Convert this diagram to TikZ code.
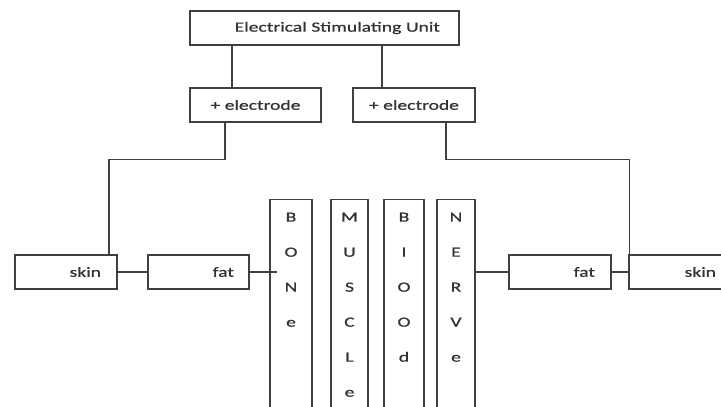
\documentclass[tikz,border=0pt]{standalone}
\usepackage{fontspec}
\setmainfont{Carlito}[FakeStretch=1.4, FakeBold=0.8]
\begin{document}
\begin{tikzpicture}[x=1pt,y=-1pt,
  every node/.style={text=black!80},
  box/.style={draw=black!75, line width=1.3pt, rectangle, inner ysep=0pt, minimum height=34pt, font=\fontsize{14}{16}\selectfont},
  rbox/.style={box, align=right, inner xsep=#1},
  vbox/.style={draw=black!75, line width=1.3pt, rectangle, inner sep=0pt, minimum height=260pt, anchor=north},
  vtext/.style={anchor=north, inner sep=0pt, align=center, font=\fontsize{14}{35}\selectfont, yshift=-13.5pt},
  conn/.style={draw=black!75, line width=1.3pt}]
\clip (0,0) rectangle (721,407);
\fill[white] (0,0) rectangle (721,407);
% top
\node[rbox=19pt, text width=231pt] (esu) at (324.5,28) {Electrical Stimulating Unit};
\node[box, minimum width=131pt] (lel) at (255.5,105) {+ electrode};
\node[box, minimum width=122pt] (rel) at (414,105) {+ electrode};
% side boxes
\node[rbox=16pt, text width=70pt] (lskin) at (66,272) {skin};
\node[rbox=15pt, text width=71pt] (lfat) at (198.5,272) {fat};
\node[rbox=16pt, text width=70pt] (rfat) at (560,272) {fat};
\node[rbox=15pt, text width=72pt] (rskin) at (680,272) {skin};
% tissue columns
\node[vbox, minimum width=42pt] (bone) at (291,199) {};
\node[vbox, minimum width=37pt] (muscle) at (349.5,199) {};
\node[vbox, minimum width=40pt] (blood) at (404,199) {};
\node[vbox, minimum width=38pt] (nerve) at (456,199) {};
\node[vtext] (bonet) at (bone.north) {B\\O\\N\\e};
\node[vtext] (musclet) at (muscle.north) {M\\U\\S\\C\\L\\e};
\node[vtext] (bloodt) at (blood.north) {B\\I\\O\\O\\d};
\node[vtext] (nervet) at (nerve.north) {N\\E\\R\\V\\e};
% connectors
\draw[conn] ([xshift=-23.5pt]lel.north) -- ([xshift=-23.5pt]lel.north |- esu.south);
\draw[conn] ([xshift=-32pt]rel.north) -- ([xshift=-32pt]rel.north |- esu.south);
\draw[conn] ([xshift=-30.5pt]lel.south) -- ++(0,37) -| ([xshift=43pt]lskin.north);
\draw[conn] ([xshift=32pt]rel.south) -- ++(0,37) -| ([xshift=1pt]rskin.north west);
\draw[conn] (lskin.east) -- (lfat.west);
\draw[conn, shorten >=-8pt] (lfat.east) -- (lfat.east -| bone.west);
\draw[conn] (rfat.west -| nerve.east) -- (rfat.west);
\draw[conn] (rfat.east) -- (rskin.west);
\end{tikzpicture}
\end{document}
